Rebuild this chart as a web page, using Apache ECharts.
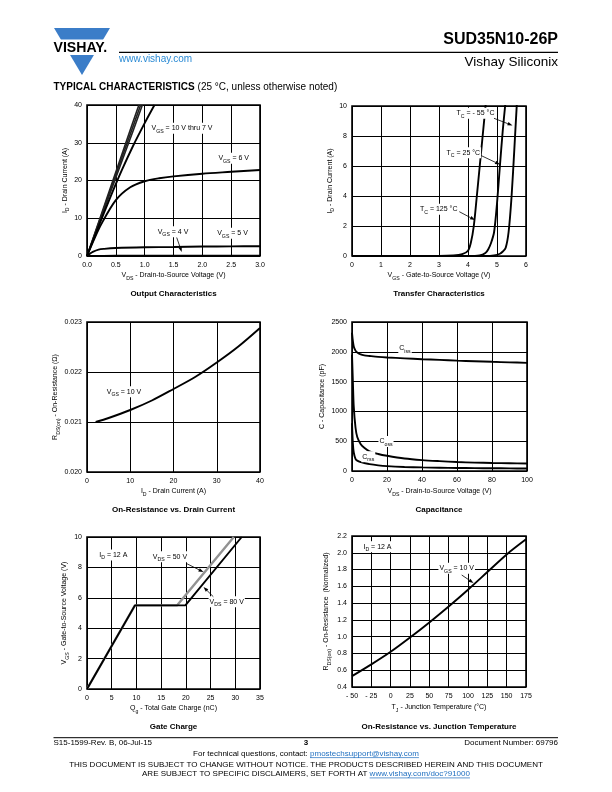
<!DOCTYPE html>
<html><head><meta charset="utf-8">
<script src="https://cdn.jsdelivr.net/npm/echarts@6.0.0/dist/echarts.min.js"></script>
<style>html,body{margin:0;padding:0;background:#fff;}#c{width:612px;height:792px;}</style>
</head><body><div id="c"></div>
<script>
// ---------------- DATA ----------------
// Output characteristics: [VDS (V), ID (A)]
const outVgs10 = [[0,0],[0.2,8.9],[0.4,17.8],[0.6,26.7],[0.8,35.6],[0.9,40]];
const outVgs9  = [[0,0],[0.2,8.6],[0.4,17.2],[0.6,25.8],[0.8,34.4],[0.93,40]];
const outVgs8  = [[0,0],[0.2,8.3],[0.4,16.6],[0.6,24.9],[0.8,33.2],[0.96,40]];
const outVgs7  = [[0,0],[0.2,7.8],[0.4,15.4],[0.6,22.6],[0.8,29.2],[1.0,35.2],[1.17,40]];
const outVgs6  = [[0,0],[0.1,3.6],[0.25,8.5],[0.5,14.8],[0.75,18.2],[1.0,19.8],[1.25,20.6],[1.5,21.1],[2.0,21.8],[2.5,22.3],[3.0,22.8]];
const outVgs5  = [[0,0],[0.05,0.6],[0.1,1.1],[0.2,1.7],[0.3,1.9],[0.5,2.1],[1.0,2.3],[1.5,2.4],[2.0,2.5],[2.5,2.55],[3.0,2.6]];
const outVgs4  = [[0,0],[0.5,0.05],[1.0,0.07],[2.0,0.08],[3.0,0.08]];

// Transfer characteristics: [VGS (V), ID (A)]
const trT125 = [[0,0],[3.0,0],[3.5,0.03],[3.8,0.12],[4.0,0.35],[4.1,0.9],[4.2,2.0],[4.3,3.9],[4.4,5.9],[4.5,7.9],[4.6,9.9],[4.62,10.3]];
const trT25  = [[0,0],[4.0,0],[4.4,0.04],[4.6,0.2],[4.7,0.45],[4.8,0.9],[4.9,1.6],[5.0,3.5],[5.1,6.0],[5.2,8.4],[5.28,10],[5.3,10.4]];
const trTm55 = [[0,0],[4.6,0],[4.9,0.04],[5.1,0.15],[5.2,0.3],[5.3,0.55],[5.4,1.6],[5.5,3.9],[5.6,7.2],[5.68,10],[5.7,10.5]];

// On-resistance vs drain current
const ridId = [2, 5, 10, 15, 20, 25, 30, 35, 40];
const ridR  = [0.02100, 0.02108, 0.02124, 0.02143, 0.02166, 0.02190, 0.02219, 0.02251, 0.02288];

// Capacitance vs VDS
const capVds = [0, 0.5, 1, 2, 3, 5, 7, 10, 15, 20, 30, 40, 50, 60, 70, 80, 90, 100];
const capCiss = [2320, 2180, 2090, 2020, 1990, 1955, 1940, 1930, 1915, 1905, 1890, 1875, 1865, 1852, 1842, 1832, 1823, 1815];
const capCoss = [1950, 1500, 1080, 730, 570, 450, 390, 330, 285, 255, 210, 183, 165, 150, 141, 134, 129, 125];
const capCrss = [800, 460, 310, 205, 175, 150, 135, 115, 95, 82, 68, 60, 55, 51, 48, 46, 44, 42];

// Gate charge
const gcQ50 = [0, 9.7, 18.2, 29.7];
const gcV50 = [0, 5.5, 5.5, 10];
const gcQ80 = [0, 9.7, 19.9, 31.3];
const gcV80 = [0, 5.5, 5.5, 10];

// On-resistance vs junction temperature
const rtT = [-50, -25, 0, 25, 50, 75, 100, 125, 150, 175];
const rtR = [0.53, 0.67, 0.82, 0.99, 1.17, 1.36, 1.56, 1.77, 1.98, 2.16];

// ---------------- RENDER ----------------
const F = "'Liberation Sans', Arial, Helvetica, sans-serif";
const zip = (a, b) => a.map((v, i) => [v, b[i]]);
const chart = echarts.init(document.getElementById('c'), null, {renderer: 'canvas'});

const AXRICH = {s: {fontSize: 5.2, fontFamily: F, color: '#000', verticalAlign: 'bottom'}};
const GR = {s: {fontSize: 5.2, fontFamily: F, fill: '#000', verticalAlign: 'bottom'}};

const gridBoxes = [
  {left: 87, top: 105, width: 173, height: 151},
  {left: 352, top: 106, width: 174, height: 150},
  {left: 87, top: 322, width: 173, height: 150},
  {left: 352, top: 322, width: 175, height: 149},
  {left: 87, top: 537, width: 173, height: 152},
  {left: 352, top: 536, width: 174, height: 151}
];
const grids = gridBoxes.map(g => Object.assign({show: true, borderColor: '#000', borderWidth: 1.6, backgroundColor: 'transparent', containLabel: false, outerBoundsMode: 'none'}, g));

function axis(i, min, max, interval, fmt, name, gap, isY) {
  return {
    gridIndex: i, type: 'value', min, max, interval,
    axisLine: {show: false}, axisTick: {show: false},
    splitLine: {show: true, lineStyle: {color: '#000', width: 1}},
    axisLabel: {fontSize: 7, color: '#000', fontFamily: F, margin: isY ? 5 : 6, showMinLabel: true, showMaxLabel: true, hideOverlap: false, formatter: fmt},
    name, nameLocation: 'middle', nameGap: gap,
    nameTextStyle: {fontSize: 7, color: '#000', fontFamily: F, lineHeight: 11, rich: AXRICH}
  };
}
const fx1 = v => v.toFixed(1);
const fint = v => String(Math.round(v));
const f3 = v => v.toFixed(3);
const fneg = v => v < 0 ? '- ' + (-v) : String(v);

const xAxes = [
  axis(0, 0, 3, 0.5, fx1, 'V{s|DS} - Drain-to-Source Voltage (V)', 14),
  axis(1, 0, 6, 1, fint, 'V{s|GS} - Gate-to-Source Voltage (V)', 14),
  axis(2, 0, 40, 10, fint, 'I{s|D} - Drain Current (A)', 14),
  axis(3, 0, 100, 20, fint, 'V{s|DS} - Drain-to-Source Voltage (V)', 15),
  axis(4, 0, 35, 5, fint, 'Q{s|g} - Total Gate Charge (nC)', 14),
  axis(5, -50, 175, 25, fneg, 'T{s|J} - Junction Temperature (°C)', 15)
];
const yAxes = [
  axis(0, 0, 40, 10, fint, 'I{s|D} - Drain Current (A)', 16, true),
  axis(1, 0, 10, 2, fint, 'I{s|D} - Drain Current (A)', 16, true),
  axis(2, 0.020, 0.023, 0.001, f3, 'R{s|DS(on)} - On-Resistance (Ω)', 15, true),
  axis(3, 0, 2500, 500, fint, 'C - Capacitance (pF)', 19, true),
  axis(4, 0, 10, 2, fint, 'V{s|GS} - Gate-to-Source Voltage (V)', 17, true),
  axis(5, 0.4, 2.2, 0.2, fx1, 'R{s|DS(on)} - On-Resistance  (Normalized)', 20, true)
];

function ln(i, data, o) {
  return Object.assign({type: 'line', xAxisIndex: i, yAxisIndex: i, data, symbol: 'none', showSymbol: false,
    smooth: 0.3, silent: true, clip: true, z: 3,
    lineStyle: {color: '#000', width: 1.9}}, o || {});
}

const series = [
  ln(0, outVgs10, {smooth: false, lineStyle: {color: '#222', width: 1.6}}),
  ln(0, outVgs9, {smooth: false, lineStyle: {color: '#222', width: 1.6}}),
  ln(0, outVgs8, {smooth: false, lineStyle: {color: '#222', width: 1.6}}),
  ln(0, outVgs7),
  ln(0, outVgs6),
  ln(0, outVgs5),
  ln(0, outVgs4),
  ln(1, trT125), ln(1, trT25), ln(1, trTm55),
  ln(2, zip(ridId, ridR)),
  ln(3, zip(capVds, capCiss)), ln(3, zip(capVds, capCoss)), ln(3, zip(capVds, capCrss)),
  ln(4, zip(gcQ50, gcV50), {smooth: false, lineStyle: {color: '#929292', width: 2.4}}),
  ln(4, zip(gcQ80, gcV80), {smooth: false, z: 4}),
  ln(5, zip(rtT, rtR))
];

// ---------- graphics ----------
const mctx = document.createElement('canvas').getContext('2d');
function tw(t, size, weight) { mctx.font = (weight || 'normal') + ' ' + size + 'px ' + F; return mctx.measureText(t).width; }

function T(text, x, y, o) {
  return {type: 'text', x, y, z: 100, silent: true,
    style: Object.assign({text, fill: '#000', fontSize: 7, fontFamily: F, lineHeight: 11, align: 'center', verticalAlign: 'middle', rich: GR}, o || {})};
}
function L(text, x, y) { return T(text, x, y, {backgroundColor: '#fff', padding: [0, 1]}); }
function arrow(x1, y1, x2, y2) {
  const a = Math.atan2(y2 - y1, x2 - x1), len = 5, w = 1.8;
  const bx = x2 - len * Math.cos(a), by = y2 - len * Math.sin(a);
  const px = -Math.sin(a) * w, py = Math.cos(a) * w;
  return [
    {type: 'line', z: 100, silent: true, shape: {x1, y1, x2: bx, y2: by}, style: {stroke: '#000', lineWidth: 0.8}},
    {type: 'polygon', z: 100, silent: true, shape: {points: [[x2, y2], [bx + px, by + py], [bx - px, by - py]]}, style: {fill: '#000'}}
  ];
}

const g = [];
// logo
g.push({type: 'polygon', z: 50, shape: {points: [[54, 28], [110, 28], [82, 75]]}, style: {fill: '#3b7dc8'}});
g.push({type: 'rect', z: 51, shape: {x: 50, y: 39.5, width: 64, height: 15.5}, style: {fill: '#fff'}});
g.push({type: 'text', z: 52, x: 53.5, y: 47.5, scaleX: 0.94, style: {text: 'VISHAY.', fill: '#000', fontSize: 15, fontWeight: 'bold', fontFamily: F, align: 'left', verticalAlign: 'middle'}});
// header
g.push({type: 'line', z: 50, shape: {x1: 119, y1: 52.3, x2: 558, y2: 52.3}, style: {stroke: '#000', lineWidth: 1.2}});
g.push(T('SUD35N10-26P', 558, 40, {align: 'right', fontSize: 16, fontWeight: 'bold', lineHeight: 18}));
g.push(T('Vishay Siliconix', 558, 62, {align: 'right', fontSize: 13.5, lineHeight: 16}));
g.push(T('www.vishay.com', 119, 59, {align: 'left', fontSize: 10, fill: '#2a8ad4', lineHeight: 12}));
g.push(T('TYPICAL CHARACTERISTICS', 53.5, 87.7, {align: 'left', fontSize: 10, fontWeight: 'bold', lineHeight: 12}));
g.push(T('(25 °C, unless otherwise noted)', 53.5 + tw('TYPICAL CHARACTERISTICS', 10, 'bold') + 3, 87.7, {align: 'left', fontSize: 10, lineHeight: 12}));

// chart titles
const titles = [
  ['Output Characteristics', 173.5, 294], ['Transfer Characteristics', 439, 294],
  ['On-Resistance vs. Drain Current', 173.5, 510], ['Capacitance', 439, 510],
  ['Gate Charge', 173.5, 727], ['On-Resistance vs. Junction Temperature', 439, 727]
];
titles.forEach(t => g.push(T(t[0], t[1], t[2], {fontSize: 8, fontWeight: 'bold', lineHeight: 10})));

// annotations
g.push(L('V{s|GS} = 10 V thru 7 V', 182, 128.3));
g.push(L('V{s|GS} = 6 V', 233.7, 158.3));
g.push(L('V{s|GS} = 4 V', 173, 231.7));
g.push(L('V{s|GS} = 5 V', 232.5, 233.3));
g.push(...arrow(176.7, 237.5, 181.7, 252));

g.push(L('T{s|C} = - 55 °C', 475.5, 113.3));
g.push(...arrow(494, 118.3, 512.5, 125.5));
g.push(L('T{s|C} = 25 °C', 463.3, 152.7));
g.push(...arrow(481, 155.5, 500, 164.5));
g.push(L('T{s|C} = 125 °C', 438.7, 209.3));
g.push(...arrow(459.3, 211.7, 475, 220));

g.push(L('V{s|GS} = 10 V', 124, 391.7));

g.push(L('C{s|iss}', 405, 348.3));
g.push(L('C{s|oss}', 386, 441.5));
g.push(L('C{s|rss}', 368.3, 456.7));

g.push(L('I{s|D} = 12 A', 113.3, 555));
g.push(L('V{s|DS} = 50 V', 170, 556.7));
g.push(...arrow(186, 563.3, 203.5, 572));
g.push(L('V{s|DS} = 80 V', 226.7, 601.7));
g.push(...arrow(213.3, 596.7, 203.5, 587));

g.push(L('I{s|D} = 12 A', 377.5, 546.7));
g.push(L('V{s|GS} = 10 V', 456.7, 568.3));
g.push(...arrow(461.7, 575, 473.5, 583));

// footer
g.push({type: 'line', z: 50, shape: {x1: 53.5, y1: 737.7, x2: 558, y2: 737.7}, style: {stroke: '#000', lineWidth: 1}});
g.push(T('S15-1599-Rev. B, 06-Jul-15', 53.5, 742.5, {align: 'left', fontSize: 8, lineHeight: 10}));
g.push(T('3', 306, 742.5, {fontSize: 8, fontWeight: 'bold', lineHeight: 10}));
g.push(T('Document Number: 69796', 558, 742.5, {align: 'right', fontSize: 8, lineHeight: 10}));

function linkLine(pre, link, y) {
  const w1 = tw(pre, 8), w2 = tw(link, 8);
  const x0 = 306 - (w1 + w2) / 2;
  g.push(T(pre, x0, y, {align: 'left', fontSize: 8, lineHeight: 10}));
  g.push(T(link, x0 + w1, y, {align: 'left', fontSize: 8, lineHeight: 10, fill: '#1f6fc0'}));
  g.push({type: 'line', z: 100, shape: {x1: x0 + w1, y1: y + 4.3, x2: x0 + w1 + w2, y2: y + 4.3}, style: {stroke: '#1f6fc0', lineWidth: 0.7}});
}
linkLine('For technical questions, contact: ', 'pmostechsupport@vishay.com', 753.3);
g.push(T('THIS DOCUMENT IS SUBJECT TO CHANGE WITHOUT NOTICE. THE PRODUCTS DESCRIBED HEREIN AND THIS DOCUMENT', 306, 765, {fontSize: 8, lineHeight: 10}));
linkLine('ARE SUBJECT TO SPECIFIC DISCLAIMERS, SET FORTH AT ', 'www.vishay.com/doc?91000', 773.6);

chart.setOption({
  animation: false,
  backgroundColor: '#fff',
  grid: grids,
  xAxis: xAxes,
  yAxis: yAxes,
  series,
  graphic: {elements: g}
});
</script></body></html>
